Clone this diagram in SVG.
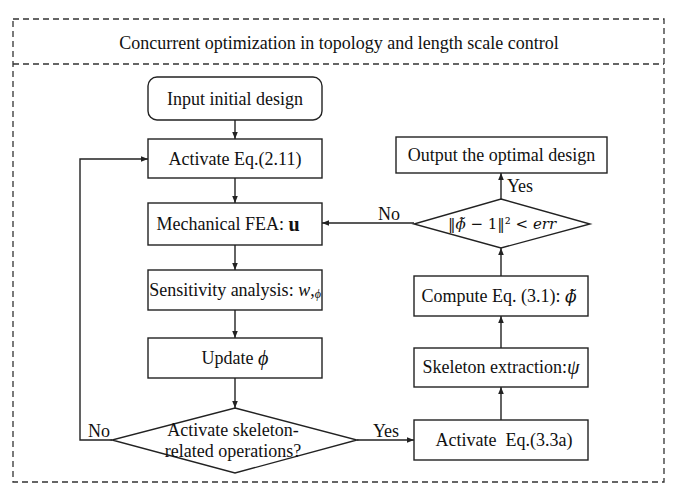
<svg xmlns="http://www.w3.org/2000/svg" width="682" height="491" viewBox="0 0 682 491">
<defs>
<marker id="ah" viewBox="0 0 10 10" refX="10" refY="5" markerWidth="7" markerHeight="7" markerUnits="userSpaceOnUse" orient="auto">
<path d="M0,1 L10,5 L0,9 z" fill="#222"/>
</marker>
<style>
.dash{fill:none;stroke:#333;stroke-width:1.3;stroke-dasharray:6 4}
.box{fill:#fff;stroke:#222;stroke-width:1.4}
.arr{fill:none;stroke:#222;stroke-width:1.4;marker-end:url(#ah)}
text{font-family:"Liberation Serif","Times New Roman",serif;font-size:18px;fill:#111;text-anchor:middle;dominant-baseline:central}
.m{font-style:italic}
.dv{font-family:"DejaVu Serif",serif}
</style>
</defs>
<rect width="682" height="491" fill="#fff"/>
<g id="frame">
<rect class="dash" x="13" y="19" width="651" height="463"/>
<line class="dash" x1="13" y1="64" x2="664" y2="64"/>
<text x="339" y="43" style="font-size:18px">Concurrent optimization in topology and length scale control</text>
</g>
<g id="connectors">
<line class="arr" x1="235" y1="120" x2="235" y2="139"/>
<line class="arr" x1="235" y1="178" x2="235" y2="203"/>
<line class="arr" x1="235" y1="245" x2="235" y2="270"/>
<line class="arr" x1="235" y1="310" x2="235" y2="338"/>
<line class="arr" x1="235" y1="378" x2="235" y2="408"/>
<polyline class="arr" points="112,440 80,440 80,159 148,159"/>
<line class="arr" x1="357" y1="440" x2="414" y2="440"/>
<line class="arr" x1="501" y1="420" x2="501" y2="387"/>
<line class="arr" x1="501" y1="348" x2="501" y2="316"/>
<line class="arr" x1="501" y1="276" x2="501" y2="248"/>
<line class="arr" x1="501" y1="199" x2="501" y2="173"/>
<line class="arr" x1="414" y1="223" x2="322" y2="223"/>
<text x="99" y="431">No</text>
<text x="386" y="431">Yes</text>
<text x="389" y="214">No</text>
<text x="520" y="186">Yes</text>
</g>
<g id="n-input">
<rect class="box" x="148" y="77" width="174" height="43" rx="9"/>
<text x="235" y="98.5">Input initial design</text>
</g>
<g id="n-act211">
<rect class="box" x="148" y="139" width="174" height="39"/>
<text x="235" y="158.5">Activate Eq.(2.11)</text>
</g>
<g id="n-fea">
<rect class="box" x="148" y="203" width="174" height="42"/>
<text x="228" y="224">Mechanical FEA: <tspan font-weight="bold" style="font-size:20px">u</tspan></text>
</g>
<g id="n-sens">
<rect class="box" x="148" y="270" width="174" height="40"/>
<text x="235" y="290">Sensitivity analysis: <tspan class="m">w</tspan>,<tspan class="m" style="font-size:12px" dy="4">ϕ</tspan></text>
</g>
<g id="n-update">
<rect class="box" x="148" y="338" width="174" height="40"/>
<text x="235" y="358">Update <tspan class="m" style="font-size:20px">ϕ</tspan></text>
</g>
<g id="n-dec1">
<polygon class="box" points="235,408 357,440 235,473 112,440"/>
<text x="233" y="430">Activate skeleton-</text>
<text x="233" y="451">related operations?</text>
</g>
<g id="n-act33">
<rect class="box" x="414" y="420" width="174" height="40"/>
<text x="504" y="440" xml:space="preserve">Activate  Eq.(3.3a)</text>
</g>
<g id="n-skel">
<rect class="box" x="414" y="348" width="174" height="39"/>
<text x="501" y="367">Skeleton extraction:<tspan class="m" style="font-size:20px">ψ</tspan></text>
</g>
<g id="n-compute">
<rect class="box" x="414" y="276" width="174" height="40"/>
<text x="499" y="296">Compute Eq. (3.1): <tspan class="m dv" style="font-size:17px">ϕ̃</tspan></text>
</g>
<g id="n-dec2">
<polygon class="box" points="501,199 590,224 501,248 414,224"/>
<text class="dv" x="502" y="224" style="font-size:15px">‖<tspan class="m">ϕ̃</tspan> − 1‖² &lt; <tspan class="m">err</tspan></text>
</g>
<g id="n-output">
<rect class="box" x="396" y="137" width="211" height="36"/>
<text x="501.5" y="155">Output the optimal design</text>
</g>
</svg>
